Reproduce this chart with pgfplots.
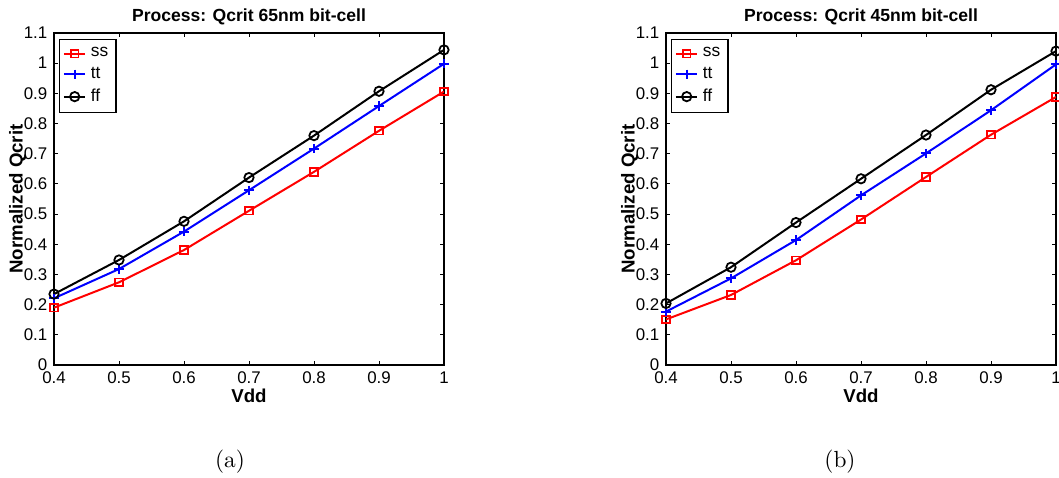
\documentclass[border=0pt]{standalone}
\usepackage{pgfplots}
\pgfplotsset{compat=1.18}
\usepackage{fontspec}
\setmainfont{Liberation Sans}
\newfontfamily\capfont{Latin Modern Roman}
\pgfplotsset{
  mystyle/.style={
    scale only axis, width=175.5pt, height=149.4pt,
    xmin=0.4, xmax=1, ymin=0, ymax=1.1,
    xtick={0.4,0.5,0.6,0.7,0.8,0.9,1},
    ytick={0,0.1,0.2,0.3,0.4,0.5,0.6,0.7,0.8,0.9,1,1.1},
    tick align=inside, major tick length=1.8pt,
    tick style={black, line width=0.4pt},
    axis line style={line width=0.5pt},
    /pgf/number format/assume math mode=true,
    /pgf/number format/fixed,
    ticklabel style={font=\fontsize{7.6}{8.5}\selectfont},
    yticklabel style={xshift=0.5pt},
    xticklabel style={yshift=0.5pt},
    title style={font=\bfseries\fontsize{7.9}{9}\selectfont, yshift=-6pt},
    xlabel style={font=\bfseries\fontsize{8.4}{9}\selectfont, yshift=4.5pt},
    ylabel style={font=\bfseries\fontsize{8.4}{9}\selectfont, yshift=-8pt},
    xlabel={Vdd}, ylabel={Normalized Qcrit},
    legend style={at={(0.013,0.982)}, anchor=north west, draw=black, line width=0.5pt,
      font=\fontsize{7.8}{9}\selectfont, inner sep=1.5pt, row sep=-0.8pt,
      legend cell align=left},
    legend image post style={line width=0.9pt},
    legend image code/.code={\draw[mark repeat=2,mark phase=2] plot coordinates {(0cm,0cm) (0.17cm,0cm) (0.34cm,0cm)};},
  },
  ss/.style={red, line width=0.9pt, mark=square, mark size=1.7pt, mark options={line width=0.8pt}},
  tt/.style={blue, line width=0.9pt, mark=+, mark size=2.1pt, mark options={line width=0.9pt}},
  ff/.style={black, line width=0.9pt, mark=o, mark size=2.1pt, mark options={line width=0.8pt}},
}
\begin{document}
\begin{tikzpicture}
\path[use as bounding box] (-24.3pt,-50.4pt) rectangle (452.25pt,164.25pt);
\begin{axis}[mystyle, at={(0pt,0pt)}, anchor=south west,
  title={Process: Qcrit 65nm bit-cell}]
\addplot[ss] coordinates {(0.4,0.190) (0.5,0.274) (0.6,0.381) (0.7,0.511) (0.8,0.640) (0.9,0.776) (1.0,0.906)};
\addplot[tt] coordinates {(0.4,0.221) (0.5,0.318) (0.6,0.442) (0.7,0.579) (0.8,0.717) (0.9,0.858) (1.0,0.998)};
\addplot[ff] coordinates {(0.4,0.235) (0.5,0.348) (0.6,0.476) (0.7,0.621) (0.8,0.760) (0.9,0.907) (1.0,1.044)};
\legend{ss,tt,ff}
\end{axis}
\begin{axis}[mystyle, at={(275.4pt,0pt)}, anchor=south west,
  title={Process: Qcrit 45nm bit-cell}]
\addplot[ss] coordinates {(0.4,0.151) (0.5,0.232) (0.6,0.347) (0.7,0.482) (0.8,0.623) (0.9,0.763) (1.0,0.888)};
\addplot[tt] coordinates {(0.4,0.177) (0.5,0.287) (0.6,0.414) (0.7,0.562) (0.8,0.701) (0.9,0.844) (1.0,0.996)};
\addplot[ff] coordinates {(0.4,0.204) (0.5,0.324) (0.6,0.472) (0.7,0.617) (0.8,0.762) (0.9,0.912) (1.0,1.040)};
\legend{ss,tt,ff}
\end{axis}
\node[font=\capfont\fontsize{10.5}{12}\selectfont] at (79.2pt,-43.65pt) {(a)};
\node[font=\capfont\fontsize{10.5}{12}\selectfont] at (353.7pt,-43.65pt) {(b)};
\end{tikzpicture}
\end{document}
